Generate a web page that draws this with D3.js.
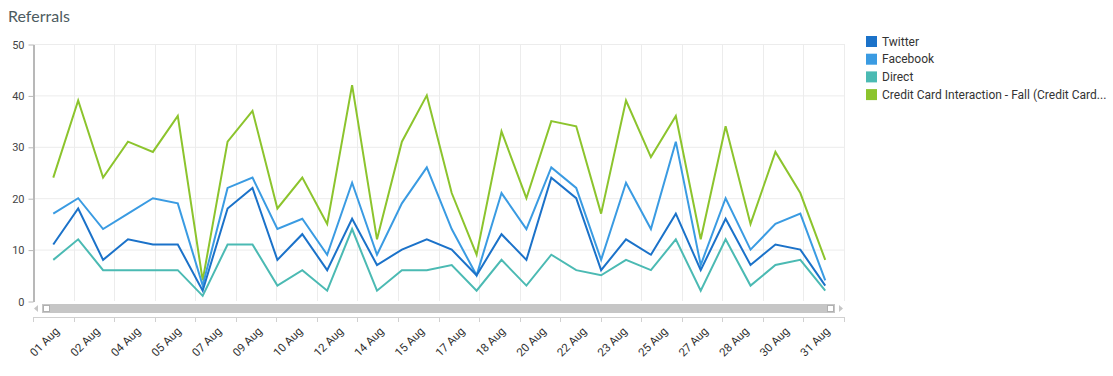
<!DOCTYPE html>
<html>
<head>
<meta charset="utf-8">
<script src="https://cdn.jsdelivr.net/npm/d3@7"></script>
<style>
  body { margin: 0; background: #fff; }
  svg { display: block; }
</style>
</head>
<body>
<svg id="drawing_region"></svg>
<script>
// x axis labels shown under the chart
const tickLabels = ['01 Aug','02 Aug','04 Aug','05 Aug','07 Aug','09 Aug','10 Aug','12 Aug','14 Aug','15 Aug',
                    '17 Aug','18 Aug','20 Aug','22 Aug','23 Aug','25 Aug','27 Aug','28 Aug','30 Aug','31 Aug'];
const yTicks = [0, 10, 20, 30, 40, 50];

const seriesNames = ['Twitter', 'Facebook', 'Direct', 'Credit Card Interaction - Fall (Credit Card...'];
const twitter  = [11,18,8,12,11,11,2,18,22,8,13,6,16,7,10,12,10,5,13,8,24,20,6,12,9,17,6,16,7,11,10,3];
const facebook = [17,20,14,17,20,19,3,22,24,14,16,9,23,9,19,26,14,5,21,14,26,22,8,23,14,31,7,20,10,15,17,4];
const direct   = [8,12,6,6,6,6,1,11,11,3,6,2,14,2,6,6,7,2,8,3,9,6,5,8,6,12,2,12,3,7,8,2];
const creditCard = [24,39,24,31,29,36,4,31,37,18,24,15,42,12,31,40,21,9,33,20,35,34,17,39,28,36,12,34,15,29,21,8];
const colors = ['#1b72c9', '#3a9be2', '#4bbab3', '#8cc42d'];

const config = {
    width: 1113,
    height: 376,
    left: 33, right: 844,
    top: 44, bottom: 301
};

const svg = d3.select('#drawing_region')
    .attr('width', config.width)
    .attr('height', config.height);

svg.append('text')
    .attr('x', 8).attr('y', 22)
    .attr('font-family', 'Lato, sans-serif')
    .attr('font-size', 16)
    .attr('fill', '#4d5b61')
    .text('Referrals');

const xBand = d3.scaleBand()
    .domain(tickLabels)
    .range([config.left, config.right]);

const xPoint = d3.scalePoint()
    .domain(d3.range(creditCard.length))
    .range([xBand(tickLabels[0]) + xBand.bandwidth() / 2,
            xBand(tickLabels[tickLabels.length - 1]) + xBand.bandwidth() / 2 + 1.5]);

const yscale = d3.scaleLinear()
    .domain([0, 50])
    .range([config.bottom, config.top]);

// band boundaries for vertical grid and x ticks
const bounds = tickLabels.map(d => xBand(d)).concat([config.right]);

const grid = svg.append('g');
grid.selectAll('line.h')
    .data(yTicks.slice(1))
    .enter().append('line')
    .attr('x1', config.left).attr('x2', config.right)
    .attr('y1', d => yscale(d) + 0.5).attr('y2', d => yscale(d) + 0.5)
    .attr('stroke', '#ececec');
grid.selectAll('line.v')
    .data(bounds.slice(1))
    .enter().append('line')
    .attr('x1', d => Math.round(d) + 0.5).attr('x2', d => Math.round(d) + 0.5)
    .attr('y1', config.top).attr('y2', config.bottom)
    .attr('stroke', '#ececec');

// y axis
const yaxis = d3.axisLeft(yscale)
    .tickValues(yTicks)
    .tickSize(5)
    .tickPadding(4)
    .tickSizeOuter(0);
const yaxis_group = svg.append('g')
    .attr('transform', `translate(${config.left + 0.5},0.5)`)
    .call(yaxis);
yaxis_group.select('.domain').attr('stroke', '#b8b8b8').attr('stroke-width', 2);
yaxis_group.selectAll('.tick line').attr('stroke', '#b8b8b8');
yaxis_group.selectAll('.tick text')
    .attr('font-family', 'Roboto, sans-serif')
    .attr('font-size', 11)
    .attr('fill', '#444');

// lines
const allSeries = [twitter, facebook, direct, creditCard];
const line = d3.line()
    .x((d, i) => xPoint(i))
    .y(d => yscale(d));

svg.append('g').selectAll('path')
    .data(allSeries.slice().reverse())
    .enter().append('path')
    .attr('d', d => line(d))
    .attr('fill', 'none')
    .attr('stroke', (d, i) => colors[allSeries.length - 1 - i])
    .attr('stroke-width', 2)
    .attr('stroke-linejoin', 'miter');

// scrollbar
const sb = svg.append('g');
sb.append('rect')
    .attr('x', 42).attr('y', 304)
    .attr('width', 793).attr('height', 9)
    .attr('fill', '#c6c6c6');
sb.append('rect')
    .attr('x', 43.5).attr('y', 305.5)
    .attr('width', 6).attr('height', 6)
    .attr('fill', '#fff').attr('stroke', '#b0b0b0');
sb.append('rect')
    .attr('x', 827.5).attr('y', 305.5)
    .attr('width', 6).attr('height', 6)
    .attr('fill', '#fff').attr('stroke', '#b0b0b0');
sb.append('path')
    .attr('d', 'M38,305 L34,308.5 L38,312 Z')
    .attr('fill', '#c6c6c6');
sb.append('path')
    .attr('d', 'M839,305 L843,308.5 L839,312 Z')
    .attr('fill', '#c6c6c6');

// x axis
const xg = svg.append('g');
xg.append('line')
    .attr('x1', config.left).attr('x2', config.right)
    .attr('y1', 317.5).attr('y2', 317.5)
    .attr('stroke', '#d0d0d0');
xg.selectAll('line.tick')
    .data(bounds)
    .enter().append('line')
    .attr('x1', d => Math.round(d) + 0.5).attr('x2', d => Math.round(d) + 0.5)
    .attr('y1', 317).attr('y2', 322)
    .attr('stroke', '#d0d0d0');
xg.selectAll('text')
    .data(tickLabels)
    .enter().append('text')
    .attr('transform', d => `translate(${xBand(d) + xBand.bandwidth() / 2 + 4},${329}) rotate(-45)`)
    .attr('text-anchor', 'end')
    .attr('dy', '0.35em')
    .attr('font-family', 'Roboto, sans-serif')
    .attr('font-size', 11.5)
    .attr('fill', '#333')
    .text(d => d);

// legend
const legend = svg.append('g')
    .attr('transform', 'translate(866,36)');
const item = legend.selectAll('g')
    .data(seriesNames)
    .enter().append('g')
    .attr('transform', (d, i) => `translate(0,${i * 17.7})`);
item.append('rect')
    .attr('width', 11).attr('height', 11)
    .attr('fill', (d, i) => colors[i]);
item.append('text')
    .attr('x', 16).attr('y', 5.5)
    .attr('dy', '0.35em')
    .attr('font-family', 'Roboto, sans-serif')
    .attr('font-size', 12)
    .attr('fill', '#333')
    .text(d => d);
</script>
</body>
</html>
